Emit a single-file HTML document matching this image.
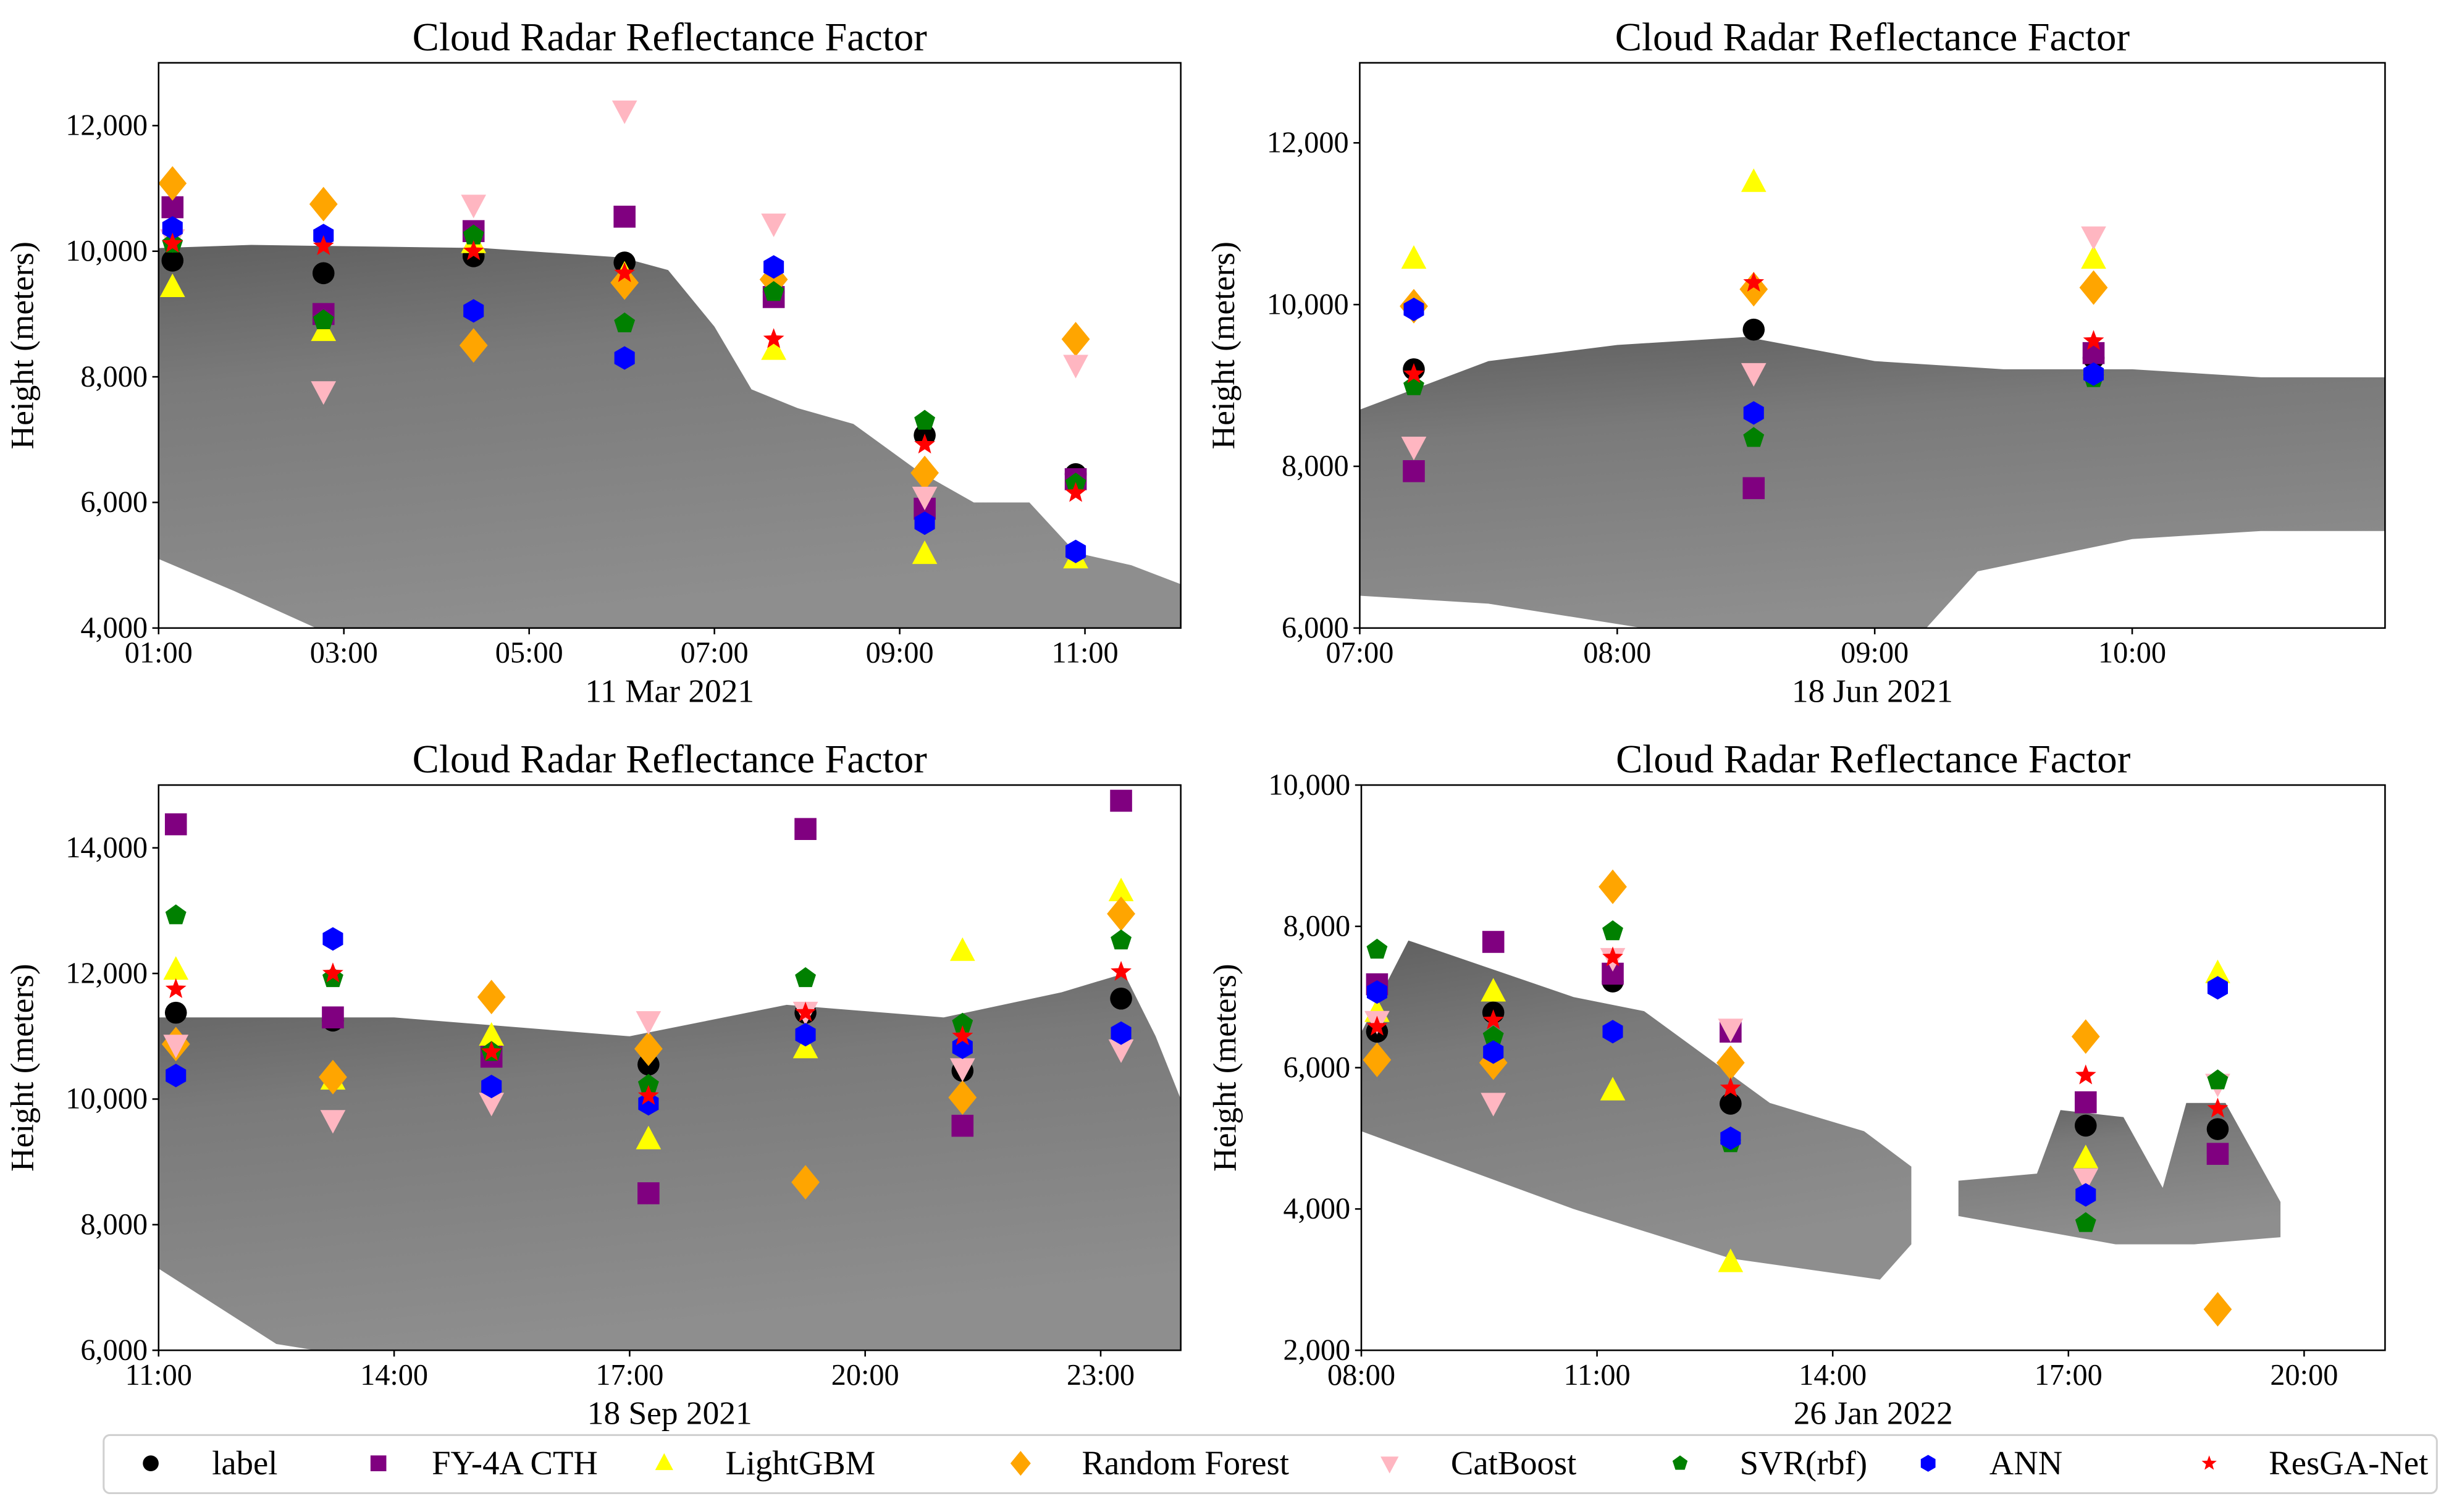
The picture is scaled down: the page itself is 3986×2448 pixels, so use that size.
<!DOCTYPE html>
<html><head><meta charset="utf-8">
<style>html,body{margin:0;padding:0;background:#fff}svg{display:block}text{font-family:"Liberation Serif",serif;fill:#000}</style>
</head><body>
<svg id="fig" width="3986" height="2448" viewBox="0 0 1568 963" xmlns="http://www.w3.org/2000/svg">
<defs>
<linearGradient id="cg" x1="0" y1="0" x2="0.25" y2="1">
<stop offset="0" stop-color="#606060"/><stop offset="0.35" stop-color="#7a7a7a"/><stop offset="1" stop-color="#8e8e8e"/>
</linearGradient>
</defs>
</svg>
<script>
// ---- data ----
const series = ["label","FY-4A CTH","LightGBM","Random Forest","CatBoost","SVR(rbf)","ANN","ResGA-Net"];
// panel 1: 11 Mar 2021
const p1Times = [1.15,2.78,4.4,6.03,7.64,9.27,10.9];
const p1Label = [9850,9650,9920,9820,9350,7070,6450];
const p1FY    = [10700,9000,10320,10550,9270,5900,6370];
const p1LGBM  = [9420,8720,10120,9620,8420,5170,5100];
const p1RF    = [11080,10750,8500,9500,9550,6470,8600];
const p1Cat   = [10200,7780,10750,12250,10450,6100,8200];
const p1SVR   = [10120,8900,10250,8850,9350,7300,6300];
const p1ANN   = [10370,10250,9050,8300,9750,5670,5220];
const p1Res   = [10120,10080,10000,9650,8600,6920,6150];
// panel 2: 18 Jun 2021
const p2Times = [7.21,8.53,9.85];
const p2Label = [9200,9690,9340];
const p2FY    = [7940,7730,9400];
const p2LGBM  = [10560,11510,10560];
const p2RF    = [9980,10190,10210];
const p2Cat   = [8250,9160,10850];
const p2SVR   = [8990,8350,9090];
const p2ANN   = [9940,8660,9140];
const p2Res   = [9140,10270,9550];
// panel 3: 18 Sep 2021
const p3Times = [11.22,13.22,15.24,17.24,19.24,21.24,23.26];
const p3Label = [11375,11250,10800,10550,11375,10450,11600];
const p3FY    = [14375,11300,10675,8500,14300,9575,14750];
const p3LGBM  = [12050,10300,11000,9350,10800,12350,13300];
const p3RF    = [10875,10350,11625,10800,8675,10025,12950];
const p3Cat   = [10875,9675,9950,11250,11400,10500,10800];
const p3SVR   = [12925,11925,10750,10225,11925,11200,12525];
const p3ANN   = [10375,12550,10200,9925,11025,10825,11050];
const p3Res   = [11750,12000,10750,10050,11375,11000,12025];
// panel 4: 26 Jan 2022
const p4Times = [8.2,9.68,11.2,12.7,17.22,18.9];
const p4Label = [6510,6780,7220,5490,5180,5130];
const p4FY    = [7180,7780,7330,6510,5510,4780];
const p4LGBM  = [6780,7070,5670,3240,4710,7330];
const p4RF    = [6110,6070,8560,6070,6440,2580];
const p4Cat   = [6670,5510,7560,6560,4440,5780];
const p4SVR   = [7670,6440,7930,4930,3800,5820];
const p4ANN   = [7070,6220,6510,5000,4200,7130];
const p4Res   = [6580,6670,7560,5710,5890,5420];
// cloud outlines [hour, height]
const cloud1 = [[1.0,10050],[2,10100],[4.5,10050],[6.0,9900],[6.5,9700],[7.0,8800],[7.4,7800],[7.9,7500],[8.5,7250],[9.2,6500],[9.8,6000],[10.4,6000],[10.9,5200],[11.5,5000],[12.03,4700],[12.03,4000],[2.7,4000],[1.8,4600],[1.0,5100]];
const cloud2 = [[7.0,8700],[7.5,9300],[8.0,9500],[8.5,9600],[9.0,9300],[9.5,9200],[10.0,9200],[10.5,9100],[11.0,9100],[11.0,7200],[10.5,7200],[10.0,7100],[9.4,6700],[9.2,6000],[8.1,6000],[7.5,6300],[7.0,6400]];
const cloud3 = [[11,11300],[14,11300],[17,11000],[19,11500],[21,11300],[22.5,11700],[23.3,12000],[23.7,11000],[24.02,10000],[24.02,6000],[13,6000],[12.5,6100],[11,7300]];
const cloud4a = [[8,6500],[8.6,7800],[10.7,7000],[11.6,6800],[13.2,5500],[14.4,5100],[15.0,4600],[15.0,3500],[14.6,3000],[12.7,3300],[10.7,4000],[8,5100]];
const cloud4b = [[15.6,4400],[16.6,4500],[16.9,5400],[17.7,5300],[18.2,4300],[18.5,5500],[19.0,5500],[19.7,4100],[19.7,3600],[18.6,3500],[17.6,3500],[15.6,3900]];
const p1XTicks=[1,3,5,7,9,11], p2XTicks=[7,8,9,10], p3XTicks=[11,14,17,20,23], p4XTicks=[8,11,14,17,20];
const p1YTicks=[4000,6000,8000,10000,12000], p2YTicks=[6000,8000,10000,12000], p3YTicks=[6000,8000,10000,12000,14000], p4YTicks=[2000,4000,6000,8000,10000];

const NS="http://www.w3.org/2000/svg";
const svg=document.getElementById('fig');
function mk(tag,attrs,parent){const e=document.createElementNS(NS,tag);for(const k in attrs)e.setAttribute(k,attrs[k]);(parent||svg).appendChild(e);return e;}
const colors=["#000000","#800080","#ffff00","#ffa500","#ffb6c1","#008000","#0000ff","#ff0000"];
function poly(n,r,rot){let p=[];for(let i=0;i<n;i++){const a=rot+i*2*Math.PI/n;p.push((r*Math.cos(a)).toFixed(2)+","+(r*Math.sin(a)).toFixed(2));}return p.join(" ");}
function star(r){let p=[];for(let i=0;i<10;i++){const a=-Math.PI/2+i*Math.PI/5;const rr=i%2?r*0.42:r;p.push((rr*Math.cos(a)).toFixed(2)+","+(rr*Math.sin(a)).toFixed(2));}return p.join(" ");}
function marker(k,x,y,g,s){
  s=s||1;const c=colors[k];let e;
  if(k===0)e=mk('circle',{cx:x,cy:y,r:7*s,fill:c},g);
  else if(k===1)e=mk('rect',{x:x-7*s,y:y-7*s,width:14*s,height:14*s,fill:c},g);
  else if(k===2)e=mk('polygon',{points:`${x},${y-9*s} ${x+8*s},${y+6*s} ${x-8*s},${y+6*s}`,fill:c},g);
  else if(k===3)e=mk('polygon',{points:`${x},${y-11*s} ${x+9*s},${y} ${x},${y+11*s} ${x-9*s},${y}`,fill:c},g);
  else if(k===4)e=mk('polygon',{points:`${x},${y+9*s} ${x+8*s},${y-6*s} ${x-8*s},${y-6*s}`,fill:c},g);
  else if(k===5)e=mk('polygon',{points:poly(5,7*s,-Math.PI/2),transform:`translate(${x},${y})`,fill:c},g);
  else if(k===6)e=mk('polygon',{points:poly(6,7.5*s,-Math.PI/2),transform:`translate(${x},${y})`,fill:c},g);
  else e=mk('polygon',{points:star(7*s),transform:`translate(${x},${y})`,fill:c},g);
  return e;
}
function fmt(v){return v.toLocaleString('en-US');}
function hh(h){return String(Math.round(h)).padStart(2,'0')+":00";}
function panel(cfg){
  const {x0,y0,w,h,xmin,xmax,ymin,ymax,date,xt,yt,times,vals,clouds,name}=cfg;
  const g=mk('g',{});
  
  
  const X=v=>x0+(v-xmin)/(xmax-xmin)*w, Y=v=>y0+h-(v-ymin)/(ymax-ymin)*h;
  const cp=mk('clipPath',{id:name+'-clip'},g);mk('rect',{x:x0,y:y0,width:w,height:h},cp);
  const cg=mk('g',{'clip-path':`url(#${name}-clip)`},g);
  clouds.forEach(cl=>{const p=mk('polygon',{points:cl.map(q=>X(q[0]).toFixed(1)+","+Y(q[1]).toFixed(1)).join(" "),fill:"url(#cg)"},cg);
    
    });
  vals.forEach((arr,k)=>{arr.forEach((v,i)=>{const m=marker(k,X(times[i]),Y(v),g);
    
    });});
  const fr=mk('rect',{x:x0,y:y0,width:w,height:h,fill:'none',stroke:'#000','stroke-width':1},g);
  
  
  xt.forEach(t=>{const x=X(t);mk('line',{x1:x,x2:x,y1:y0+h,y2:y0+h+4,stroke:'#000'},g);
    const tx=mk('text',{x:x,y:y0+h+22,'text-anchor':'middle','font-size':19},g);tx.textContent=hh(t);
    
    });
  yt.forEach(t=>{const y=Y(t);mk('line',{x1:x0-4,x2:x0,y1:y,y2:y,stroke:'#000'},g);
    const tx=mk('text',{x:x0-7,y:y+6,'text-anchor':'end','font-size':19},g);tx.textContent=fmt(t);
    
    });
  const ti=mk('text',{x:x0+w/2,y:y0-8,'text-anchor':'middle','font-size':25.5},g);ti.textContent="Cloud Radar Reflectance Factor";
  
  
  const xl=mk('text',{x:x0+w/2,y:y0+h+47,'text-anchor':'middle','font-size':21},g);xl.textContent=date;
  
  
  const yl=mk('text',{x:0,y:0,'text-anchor':'middle','font-size':21,transform:`translate(${x0-80},${y0+h/2}) rotate(-90)`},g);yl.textContent="Height (meters)";
  
  
}
panel({name:'panel-11-mar-2021',x0:101,y0:40,w:651,h:360,xmin:1,xmax:12.034,ymin:4000,ymax:13000,date:"11 Mar 2021",xt:p1XTicks,yt:p1YTicks,times:p1Times,vals:[p1Label,p1FY,p1LGBM,p1RF,p1Cat,p1SVR,p1ANN,p1Res],clouds:[cloud1]});
panel({name:'panel-18-jun-2021',x0:866,y0:40,w:653,h:360,xmin:7,xmax:10.982,ymin:6000,ymax:12990,date:"18 Jun 2021",xt:p2XTicks,yt:p2YTicks,times:p2Times,vals:[p2Label,p2FY,p2LGBM,p2RF,p2Cat,p2SVR,p2ANN,p2Res],clouds:[cloud2]});
panel({name:'panel-18-sep-2021',x0:101,y0:500,w:651,h:360,xmin:11,xmax:24.02,ymin:6000,ymax:15000,date:"18 Sep 2021",xt:p3XTicks,yt:p3YTicks,times:p3Times,vals:[p3Label,p3FY,p3LGBM,p3RF,p3Cat,p3SVR,p3ANN,p3Res],clouds:[cloud3]});
panel({name:'panel-26-jan-2022',x0:867,y0:500,w:652,h:360,xmin:8,xmax:21.03,ymin:2000,ymax:10000,date:"26 Jan 2022",xt:p4XTicks,yt:p4YTicks,times:p4Times,vals:[p4Label,p4FY,p4LGBM,p4RF,p4Cat,p4SVR,p4ANN,p4Res],clouds:[cloud4a,cloud4b]});
// legend
const lg=mk('g',{});


mk('rect',{x:66,y:914,width:1486,height:37,rx:4,fill:'#fff',stroke:'#d0d0d0','stroke-width':1.2},lg);
const legMX=[96,241,423,650,885,1070,1228,1407], legTX=[135,275,462,689,924,1108,1267,1445];
series.forEach((s,k)=>{const m=marker(k,legMX[k],932,lg,0.72);
  
  
  const t=mk('text',{x:legTX[k],y:939,'font-size':21.5},lg);t.textContent=s;
  
  });
</script>
</body></html>
